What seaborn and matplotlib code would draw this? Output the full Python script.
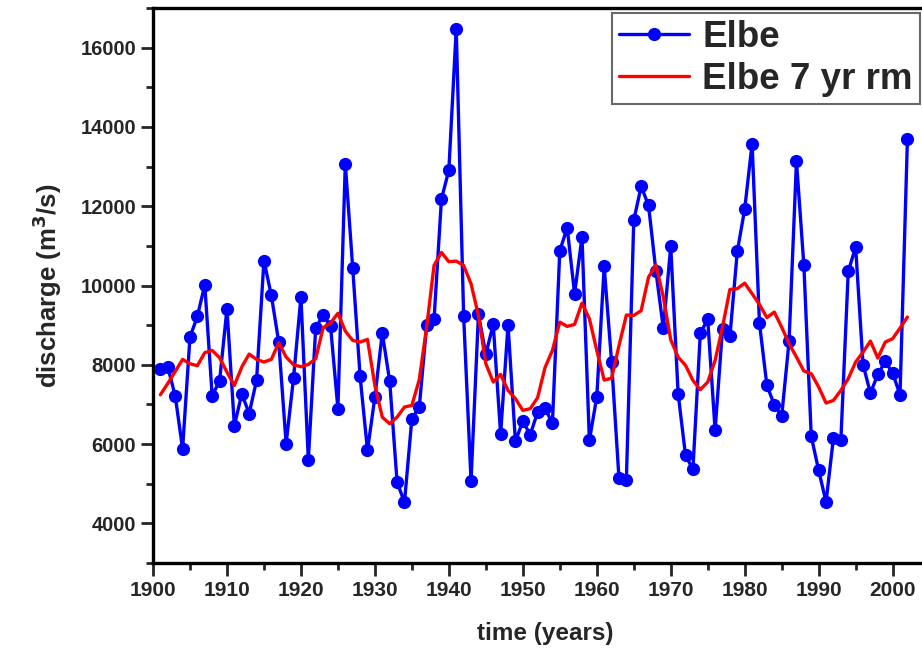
import numpy as np
import pandas as pd
import matplotlib
matplotlib.use("Agg")
import matplotlib.pyplot as plt
from matplotlib.ticker import MultipleLocator
import seaborn as sns

# Annual mean discharge of the Elbe, 1901-2002 (m^3/s)
years = list(range(1901, 2003))
discharge = [
    7900, 7940, 7220, 5880, 8700, 9220, 10020, 7220, 7590, 9415,
    6460, 7270, 6770, 7605, 10630, 9750, 8575, 6010, 7665, 9710,
    5605, 8935, 9246, 8986, 6893, 13070, 10450, 7707, 5841, 7186,
    8800, 7590, 5042, 4530, 6640, 6934, 8994, 9150, 12180, 12910,
    16480, 9230, 5070, 9271, 8270, 9019, 6250, 9005, 6070, 6575,
    6237, 6805, 6908, 6520, 10875, 11457, 9793, 11220, 6093, 7186,
    10482, 8080, 5140, 5090, 11640, 12500, 12020, 10355, 8920, 10986,
    7271, 5715, 5362, 8800, 9145, 6346, 8910, 8716, 10860, 11927,
    13576, 9045, 7480, 6994, 6700, 8598, 13137, 10507, 6194, 5337,
    4538, 6161, 6093, 10355, 10968, 8002, 7286, 7758, 8086, 7791,
    7245, 13685,
]
# 7-year running mean
running_mean = [
    7245, 7530, 7830, 8136, 8027, 7977, 8305, 8363, 8178, 7816,
    7480, 7942, 8270, 8136, 8070, 8136, 8556, 8195, 8002, 7950,
    8010, 8153, 8935, 9050, 9300, 8850, 8615, 8573, 8640, 7480,
    6680, 6514, 6680, 6934, 6976, 7624, 8950, 10507, 10835, 10600,
    10615, 10507, 10045, 9246, 8028, 7565, 7758, 7354, 7145, 6850,
    6893, 7170, 7927, 8363, 9077, 8968, 9019, 9556, 9163, 8363,
    7615, 7660, 8480, 9255, 9246, 9365, 10212, 10515, 9708, 8632,
    8195, 7985, 7607, 7372, 7565, 8110, 8950, 9900, 9920, 10060,
    9793, 9520, 9190, 9330, 8950, 8532, 8195, 7842, 7775, 7440,
    7035, 7102, 7354, 7650, 8070, 8320, 8598, 8170, 8573, 8658,
    8926, 9204,
]
series_labels = ["Elbe", "Elbe 7 yr rm"]
x_ticks = list(range(1900, 2001, 10))
y_ticks = list(range(4000, 16001, 2000))

df = pd.DataFrame({"year": years, "discharge": discharge, "rm": running_mean})

sns.set_style("ticks")
plt.rcParams["font.family"] = ["Liberation Sans", "DejaVu Sans"]
plt.rcParams["font.weight"] = "bold"

fig = plt.figure(figsize=(9.22, 6.5), dpi=100)
ax = fig.add_axes([153 / 922, 87 / 650, 784 / 922, 555 / 650])

sns.lineplot(data=df, x="year", y="discharge", ax=ax, color="#0000ff",
             linewidth=2.4, marker="o", markersize=9.5, markeredgewidth=0,
             label=series_labels[0])
sns.lineplot(data=df, x="year", y="rm", ax=ax, color="#ff0000",
             linewidth=2.4, label=series_labels[1])

ax.set_xlim(1900, 2006)
ax.set_ylim(3000, 17000)
ax.set_xticks(x_ticks)
ax.set_yticks(y_ticks)
ax.xaxis.set_minor_locator(MultipleLocator(5))
ax.yaxis.set_minor_locator(MultipleLocator(1000))

for side in ["left", "bottom", "top", "right"]:
    ax.spines[side].set_linewidth(2.4)
    ax.spines[side].set_color("black")

ax.tick_params(axis="both", which="major", direction="out", length=9,
               width=2, labelsize=14.5, pad=3)
ax.tick_params(axis="x", which="major", pad=4)
ax.tick_params(axis="both", which="minor", direction="out", length=5, width=2)
for lab in ax.get_xticklabels() + ax.get_yticklabels():
    lab.set_fontweight("bold")
for lab in ax.get_xticklabels():
    lab.set_fontsize(15)

ax.set_xlabel("time (years)", fontsize=17.5, fontweight="bold", labelpad=16)
ax.set_ylabel("discharge (m$^\\mathbf{3}$/s)", fontsize=18.5, fontweight="bold",
              labelpad=12)

leg = ax.legend(loc="upper left", bbox_to_anchor=(612 / 922, 1 - 13 / 650),
                bbox_transform=fig.transFigure, fontsize=26.5, frameon=True,
                fancybox=False, handlelength=1.9, handletextpad=0.35,
                borderpad=0.2, labelspacing=0.18, borderaxespad=0)
leg.get_frame().set_edgecolor("#444444")
leg.get_frame().set_linewidth(1.5)
for t in leg.get_texts():
    t.set_fontweight("bold")

fig.savefig("out.png", dpi=100)
